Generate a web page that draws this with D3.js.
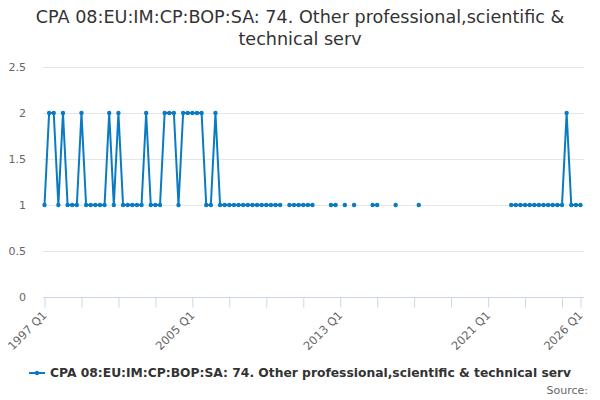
<!DOCTYPE html>
<html>
<head>
<meta charset="utf-8">
<script src="https://cdn.jsdelivr.net/npm/d3@7"></script>
<style>
  body { margin: 0; background: #fff; }
  svg { display: block; font-family: "DejaVu Sans", sans-serif; }
</style>
</head>
<body>
<svg id="chart" width="600" height="400"></svg>
<script>
const titleLines = ["CPA 08:EU:IM:CP:BOP:SA: 74. Other professional,scientific &", "technical serv"];
const seriesName = "CPA 08:EU:IM:CP:BOP:SA: 74. Other professional,scientific & technical serv";
const startYear = 1997;
const endYear = 2026;
// quarterly values 1997 Q1 .. 2026 Q1 (null = missing)
const values = [
  1, 2, 2, 1, 2, 1, 1, 1,        // 1997-1998
  2, 1, 1, 1, 1, 1, 2, 1,        // 1999-2000
  2, 1, 1, 1, 1, 1, 2, 1,        // 2001-2002
  1, 1, 2, 2, 2, 1, 2, 2,        // 2003-2004
  2, 2, 2, 1, 1, 2, 1, 1,        // 2005-2006
  1, 1, 1, 1, 1, 1, 1, 1,        // 2007-2008
  1, 1, 1, 1, null, 1, 1, 1,     // 2009-2010
  1, 1, 1, null, null, null, 1, 1, // 2011-2012
  null, 1, null, 1, null, null, null, 1, // 2013-2014
  1, null, null, null, 1, null, null, null, // 2015-2016
  null, 1, null, null, null, null, null, null, // 2017-2018
  null, null, null, null, null, null, null, null, // 2019-2020
  null, null, null, null, null, 1, 1, 1, // 2021-2022
  1, 1, 1, 1, 1, 1, 1, 1,        // 2023-2024
  1, 2, 1, 1,                    // 2025
  1                              // 2026 Q1
];
const yTicks = [0, 0.5, 1, 1.5, 2, 2.5];
const labelQuarters = [0, 32, 64, 96, 116];

const categories = values.map((v, i) => `${startYear + Math.floor(i / 4)} Q${i % 4 + 1}`);
const data = values.map((v, i) => ({ i, v }));

const svg = d3.select("#chart");
const plotLeft = 43, plotRight = 584, plotTop = 67, plotBottom = 297;

const x = d3.scaleLinear().domain([0, values.length - 1]).range([44.5, 580.5]);
const y = d3.scaleLinear().domain([0, 2.5]).range([plotBottom, plotTop]);

// title
const title = svg.append("text")
  .attr("x", 300).attr("text-anchor", "middle")
  .style("font-size", "17.6px").style("fill", "#333");
titleLines.forEach((t, k) => {
  title.append("tspan").attr("x", 300).attr("y", 23 + k * 22).text(t);
});

// gridlines
svg.append("g").selectAll("line").data(yTicks.filter(d => d !== 0)).join("line")
  .attr("x1", plotLeft).attr("x2", plotRight)
  .attr("y1", d => y(d) + 0.5).attr("y2", d => y(d) + 0.5)
  .attr("stroke", "#e6e6e6").attr("stroke-width", 1);

// y labels
svg.append("g").selectAll("text").data(yTicks).join("text")
  .attr("x", 26).attr("y", d => y(d) + 4)
  .attr("text-anchor", "end")
  .style("font-size", "11px").style("fill", "#666")
  .text(d => d);

// x axis
const xAxis = d3.axisBottom(x)
  .tickValues(d3.range(0, values.length, 8).concat([values.length - 1]))
  .tickSize(10).tickFormat("");
const gx = svg.append("g").attr("transform", `translate(0,${plotBottom + 0.5})`).call(xAxis);
gx.select(".domain").attr("d", `M${plotLeft},0H${plotRight}`).attr("stroke", "#ccd6eb");
gx.selectAll(".tick line").attr("stroke", "#ccd6eb");

svg.append("g").selectAll("text").data(labelQuarters).join("text")
  .attr("transform", d => `translate(${x(d) + 3},${plotBottom + 19}) rotate(-45)`)
  .attr("text-anchor", "end")
  .style("font-size", "11.5px").style("fill", "#666")
  .text(d => categories[d]);

// line
const color = "#0a7bc2";
const line = d3.line().defined(d => d.v !== null).x(d => x(d.i)).y(d => y(d.v));
svg.append("path").datum(data)
  .attr("d", line).attr("fill", "none")
  .attr("stroke", color).attr("stroke-width", 2).attr("stroke-linejoin", "round");
svg.append("g").selectAll("circle").data(data.filter(d => d.v !== null)).join("circle")
  .attr("cx", d => x(d.i)).attr("cy", d => y(d.v)).attr("r", 2.2).attr("fill", color);

// legend
const lg = svg.append("g").attr("transform", "translate(0,373)");
lg.append("line").attr("x1", 29).attr("x2", 45).attr("y1", 0).attr("y2", 0)
  .attr("stroke", color).attr("stroke-width", 2);
lg.append("circle").attr("cx", 37).attr("cy", 0).attr("r", 2.2).attr("fill", color);
lg.append("text").attr("x", 50).attr("y", 4)
  .style("font-size", "12.3px").style("font-weight", "bold").style("fill", "#333")
  .text(seriesName);

// source
svg.append("text").attr("x", 588).attr("y", 394).attr("text-anchor", "end")
  .style("font-size", "11px").style("fill", "#666").text("Source:");
</script>
</body>
</html>
